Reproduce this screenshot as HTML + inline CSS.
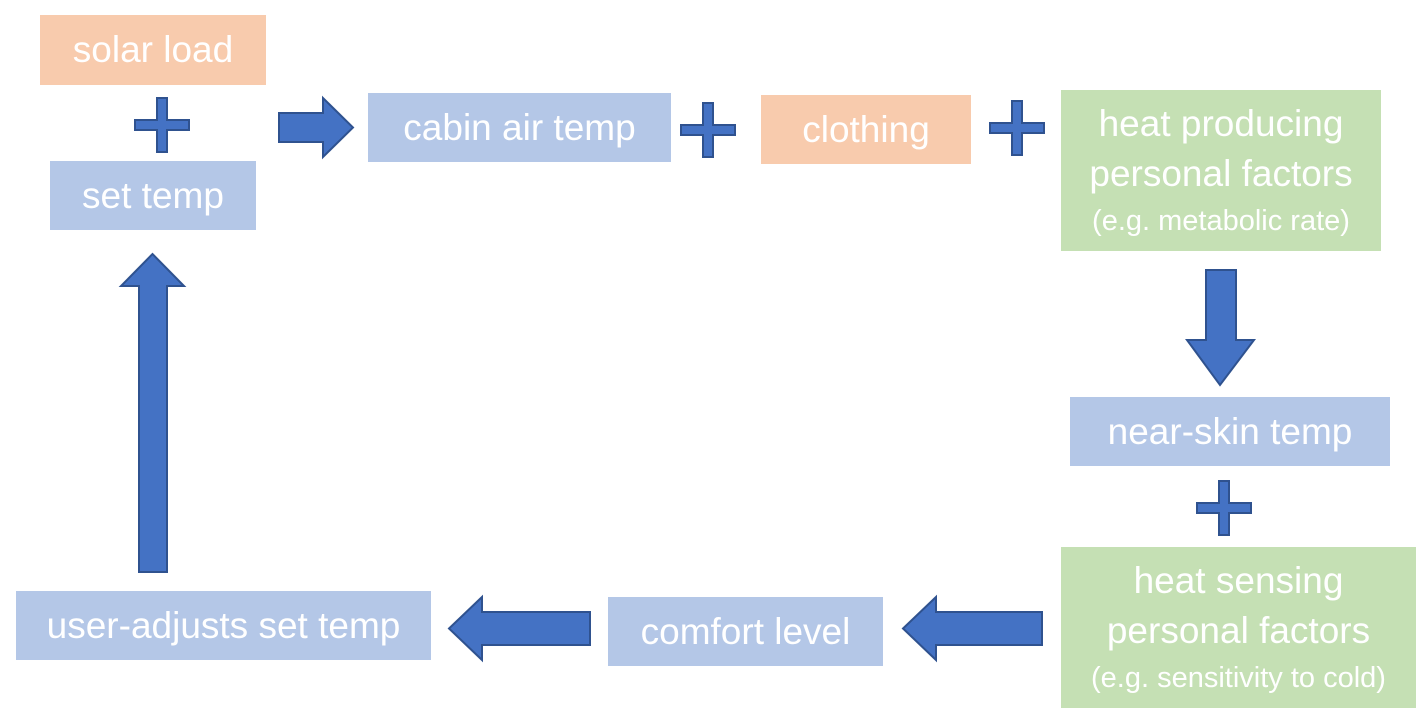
<!DOCTYPE html>
<html><head><style>
body{margin:0;width:1428px;height:716px;background:#fff;overflow:hidden;position:relative;font-family:"Liberation Sans",sans-serif}
.b{position:absolute;display:flex;align-items:center;justify-content:center;text-align:center;color:#fff;font-size:37px;line-height:50px;white-space:nowrap}
.p{background:#F8CBAD}.u{background:#B4C7E7}.g{background:#C5E0B4}
small{font-size:29px;line-height:44px;display:block}
svg{position:absolute;left:0;top:0}
</style></head><body>
<div class="b p" style="left:40px;top:15px;width:226px;height:70px">solar load</div>
<div class="b u" style="left:50px;top:161px;width:206px;height:69px">set temp</div>
<div class="b u" style="left:368px;top:93px;width:303px;height:69px">cabin air temp</div>
<div class="b p" style="left:761px;top:95px;width:210px;height:69px">clothing</div>
<div class="b g" style="left:1061px;top:90px;width:320px;height:161px"><div>heat producing<br>personal factors<small>(e.g. metabolic rate)</small></div></div>
<div class="b u" style="left:1070px;top:397px;width:320px;height:69px">near-skin temp</div>
<div class="b g" style="left:1061px;top:547px;width:355px;height:161px"><div>heat sensing<br>personal factors<small>(e.g. sensitivity to cold)</small></div></div>
<div class="b u" style="left:608px;top:597px;width:275px;height:69px">comfort level</div>
<div class="b u" style="left:16px;top:591px;width:415px;height:69px">user-adjusts set temp</div>
<svg width="1428" height="716" fill="#4472C4" stroke="#2F528F" stroke-width="2">
<defs><path id="pl" d="M-5,-27H5V-5H27V5H5V27H-5V5H-27V-5H-5Z"/></defs>
<use href="#pl" x="162" y="125"/>
<use href="#pl" x="708" y="130"/>
<use href="#pl" x="1017" y="128"/>
<use href="#pl" x="1224" y="508"/>
<path d="M279,113H323V98L353,127.5L323,157V142H279Z"/>
<path d="M1206,270H1236V340H1254L1220,385L1187,340H1206Z"/>
<path d="M1042,612H936V597L903,628.5L936,660V645H1042Z"/>
<path d="M590,612H482V597L449,628.5L482,660V645H590Z"/>
<path d="M139,572H167V286H184L152.5,254L121,286H139Z"/>
</svg>
</body></html>
